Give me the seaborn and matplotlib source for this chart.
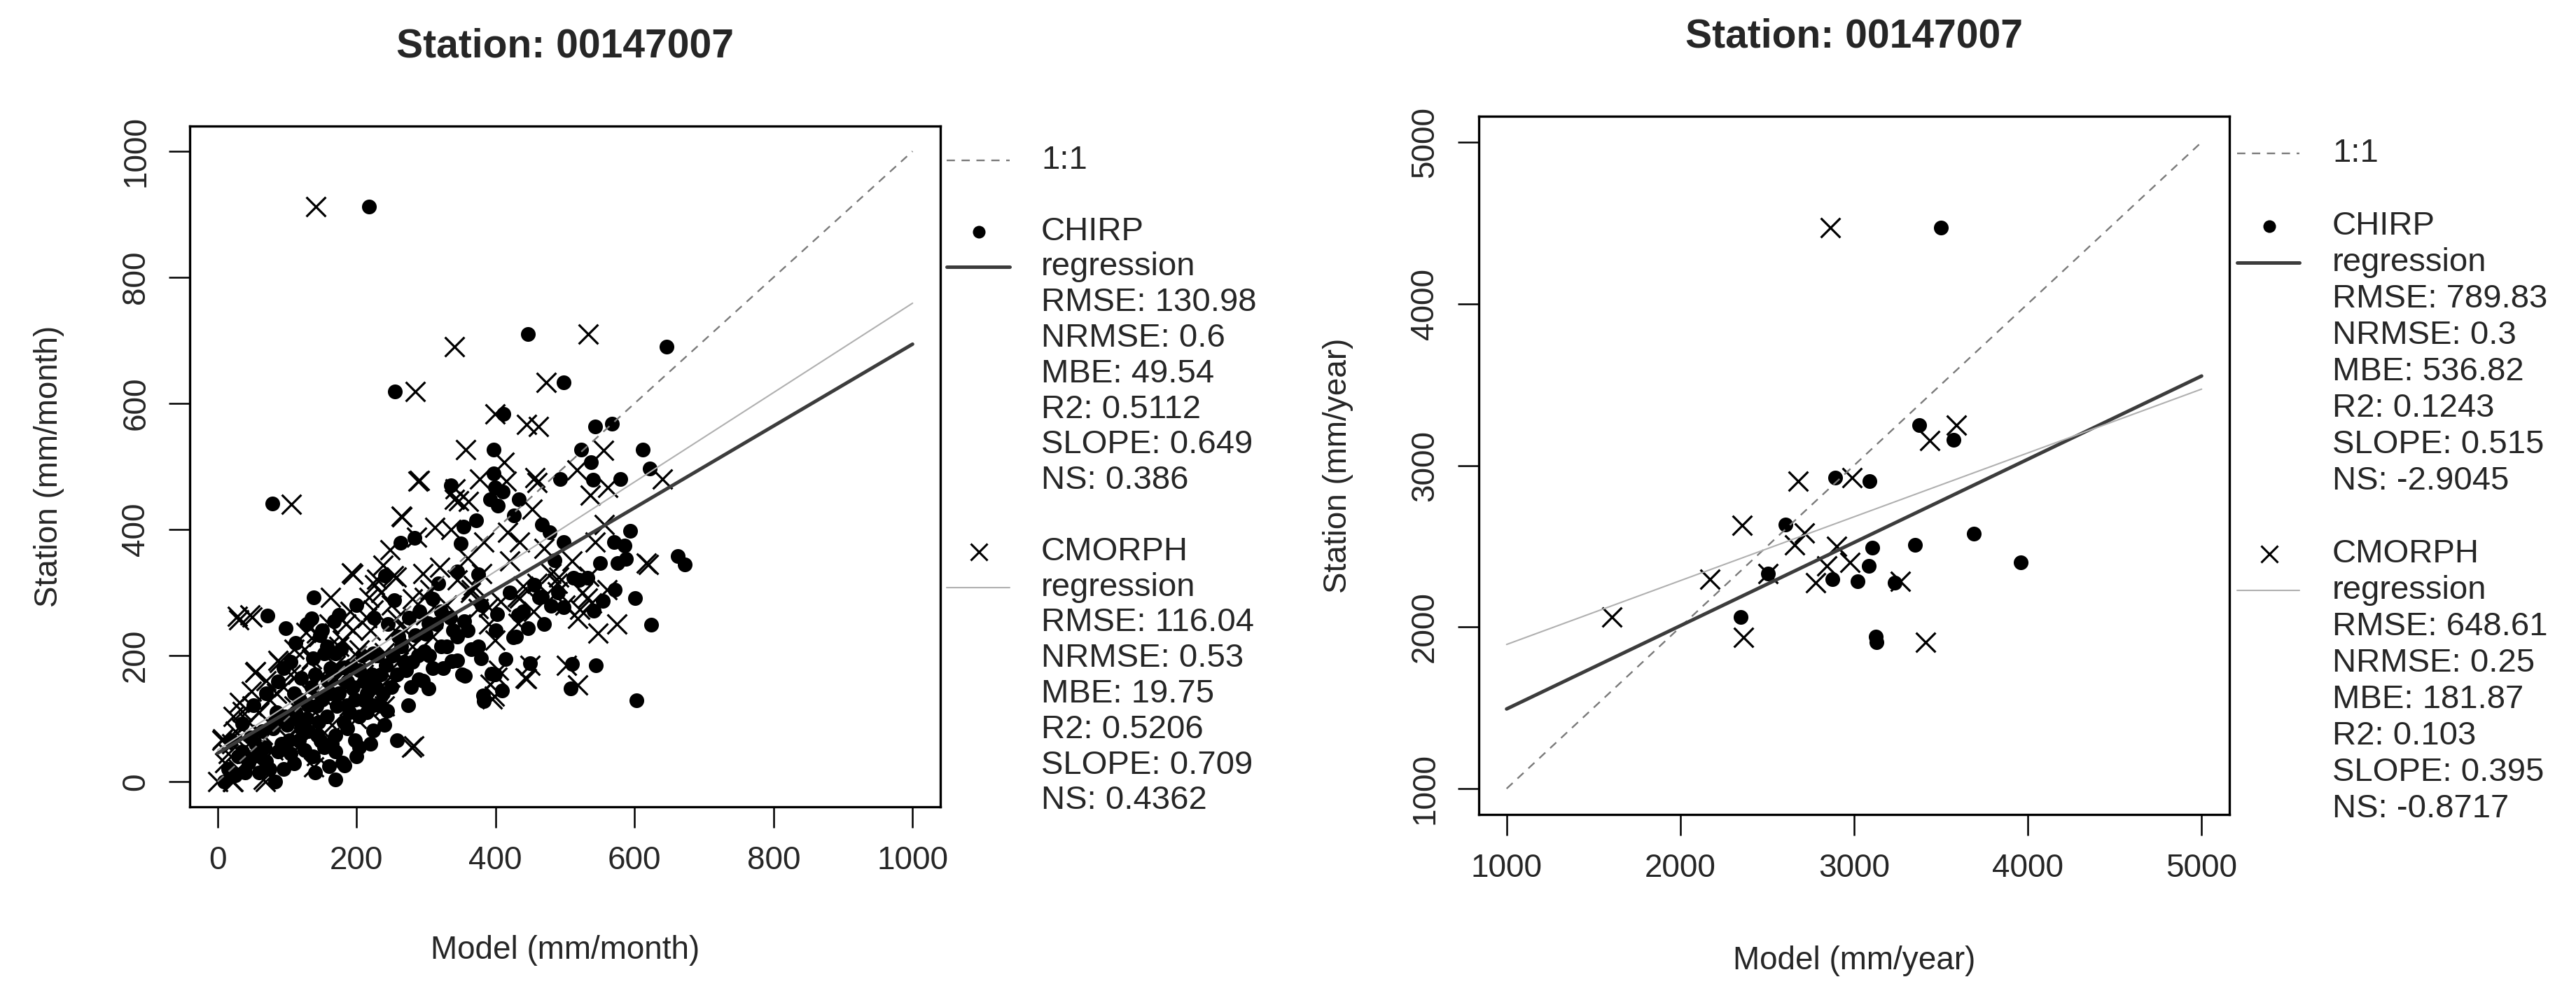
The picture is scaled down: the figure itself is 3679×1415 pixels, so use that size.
import numpy as np
import pandas as pd
import matplotlib
matplotlib.use("Agg")
import matplotlib.pyplot as plt
from matplotlib.lines import Line2D
import seaborn as sns

# ---- monthly panel: (model, station) pairs ----
chirp_monthly = [
    (447, 710), (646, 690), (498, 633), (411, 583), (543, 563), (567, 568), (523, 527), (537, 507),
    (612, 527), (622, 497), (580, 480), (540, 479), (493, 480), (397, 527), (397, 489), (399, 467),
    (410, 460), (392, 448), (403, 438), (434, 448), (336, 470), (426, 422), (467, 408), (478, 396),
    (594, 398), (498, 380), (571, 380), (586, 375), (662, 358), (672, 345), (588, 353), (576, 347),
    (550, 347), (485, 351), (512, 323), (532, 323), (572, 304), (601, 291), (554, 287), (456, 312),
    (467, 293), (480, 279), (498, 277), (541, 271), (354, 405), (372, 415), (350, 378),
    (218, 912), (255, 619), (624, 249), (603, 129), (544, 184), (508, 148), (510, 187), (409, 144),
    (383, 128), (399, 170), (429, 230), (337, 191), (356, 168),
    (79, 441), (72, 263), (138, 292), (98, 243), (135, 259), (168, 254), (263, 379), (283, 387),
    (241, 327), (254, 288), (318, 314), (345, 333), (375, 329), (463, 292), (402, 266), (432, 264),
    (447, 243), (425, 229), (375, 214), (345, 192), (352, 170), (379, 196), (414, 194), (450, 188),
    (394, 171), (382, 137), (304, 148), (289, 162), (274, 121), (258, 66), (224, 81), (204, 55),
    (183, 26), (170, 3), (83, 0), (9, 0), (147, 232),
    (137, 196), (153, 203), (170, 177), (187, 159), (163, 140), (36, 48), (52, 40), (70, 32),
    (87, 48), (103, 66), (120, 84), (110, 29), (137, 40), (153, 54), (170, 73), (187, 84),
    (204, 103), (211, 129), (187, 121), (157, 103), (130, 121), (110, 140), (87, 159), (70, 140),
    (52, 121), (36, 92), (19, 66), (97, 103), (80, 84), (117, 66), (143, 73), (170, 48),
    (198, 66), (224, 121), (238, 140), (211, 159), (183, 181), (157, 214), (170, 203), (204, 177),
    (224, 203), (271, 177), (298, 207), (322, 214), (339, 240), (355, 254), (304, 251), (322, 270),
    (284, 232), (264, 214), (244, 112), (15, 20), (25, 10), (45, 30), (60, 15), (95, 20),
    (125, 50), (145, 95), (165, 60), (190, 110), (215, 140), (235, 170), (250, 150), (280, 190),
    (300, 235), (310, 180), (330, 215), (360, 240), (380, 280), (400, 240), (420, 300), (440, 270),
    (470, 250), (490, 300), (520, 320), (55, 60), (65, 80), (85, 110), (100, 90), (115, 100),
    (130, 80), (150, 130), (175, 140), (195, 150), (120, 165), (140, 170), (95, 180), (105, 190),
    (260, 230), (275, 260), (290, 270), (310, 290), (230, 200), (245, 250),
    (30, 40), (40, 15), (48, 70), (58, 45), (68, 55), (75, 20), (82, 95), (92, 60),
    (105, 45), (112, 110), (118, 130), (128, 100), (135, 150), (142, 120), (148, 65), (158, 160),
    (162, 180), (172, 120), (178, 210), (182, 95), (192, 185), (198, 130), (208, 200), (215, 110),
    (222, 170), (228, 150), (235, 120), (242, 185), (252, 200), (258, 170), (268, 190), (278, 150),
    (288, 200), (295, 160), (305, 200), (315, 250), (325, 180), (335, 260), (345, 230), (365, 210),
    (128, 250), (112, 220), (150, 240), (175, 265), (200, 280), (225, 260), (180, 30), (160, 25),
    (140, 15), (200, 40), (220, 60), (240, 90),
]

cmorph_monthly = [
    (341, 690), (533, 710), (473, 633), (399, 583), (445, 567), (462, 563), (357, 527), (555, 526),
    (412, 507), (517, 494), (377, 480), (415, 477), (457, 482), (460, 474), (640, 480), (561, 467),
    (536, 454), (341, 448), (361, 445), (453, 432), (556, 408), (543, 380), (617, 347), (417, 396),
    (435, 380), (336, 400), (383, 380), (368, 311), (489, 315), (489, 301), (534, 326), (435, 291),
    (532, 291), (521, 273), (538, 283), (390, 277),
    (141, 912), (284, 619), (290, 478), (265, 420), (342, 465), (347, 446), (286, 388), (248, 368),
    (313, 403), (195, 329), (229, 321), (257, 325), (306, 304), (364, 300), (491, 324), (460, 314),
    (518, 259), (547, 236), (431, 293), (407, 286), (433, 251), (502, 185), (450, 185), (445, 163),
    (402, 166), (392, 154), (398, 136), (518, 153), (282, 57), (142, 41), (31, 257), (50, 261),
    (55, 174), (89, 189), (36, 111), (7, 68), (0, 0), (21, 0), (69, 0), (142, 236),
    (257, 259), (224, 272), (180, 224), (204, 209), (171, 162),
    (106, 440), (29, 262), (47, 264), (193, 331), (163, 292), (54, 173), (264, 421), (288, 477),
    (226, 312), (253, 327), (298, 292), (365, 305), (399, 225), (404, 177), (443, 164), (395, 131),
    (279, 55), (138, 23), (66, 3), (22, 0), (6, 66), (22, 103), (32, 126), (49, 143),
    (87, 192), (110, 210), (127, 237), (191, 270), (218, 292), (238, 343), (221, 110), (248, 166),
    (10, 30), (15, 45), (25, 80), (30, 20), (40, 55), (45, 95), (55, 35), (60, 110),
    (65, 75), (75, 130), (80, 50), (90, 100), (95, 150), (100, 70), (110, 120), (115, 170),
    (120, 90), (130, 145), (135, 195), (140, 110), (150, 170), (155, 130), (160, 215), (165, 90),
    (170, 185), (180, 150), (185, 250), (190, 120), (200, 200), (210, 170), (220, 240), (230, 145),
    (240, 205), (250, 280), (260, 190), (270, 240), (280, 215), (300, 265), (310, 230), (320, 340),
    (330, 280), (345, 320), (350, 250), (360, 355), (375, 275), (380, 330), (390, 250), (420, 350),
    (440, 310), (455, 270), (470, 370), (480, 330), (500, 280), (510, 350), (525, 300), (560, 305),
    (575, 250), (620, 345),
    (20, 60), (35, 85), (50, 120), (70, 160), (85, 140), (105, 170), (125, 210), (145, 230),
    (160, 250), (175, 215), (195, 240), (215, 260), (235, 300), (255, 240), (280, 290), (295, 330),
    (120, 60), (160, 70), (200, 100), (240, 120),
]

# ---- annual panel ----
chirp_yearly = [
    (3500, 4472), (3373, 3251), (3571, 3160), (2893, 2925), (3090, 2904), (2605, 2636),
    (3689, 2578), (3350, 2508), (3105, 2492), (2503, 2331), (3958, 2401), (3085, 2377),
    (2876, 2298), (3020, 2285), (3232, 2273), (2347, 2060), (3124, 1941), (3127, 1908),
]
cmorph_yearly = [
    (2862, 4472), (3590, 3251), (3435, 3153), (2989, 2925), (2678, 2904), (2356, 2630),
    (2715, 2584), (2658, 2508), (2898, 2499), (2975, 2401), (2842, 2377), (2503, 2331),
    (2169, 2295), (2780, 2273), (3266, 2285), (1607, 2060), (2362, 1938), (3412, 1905),
]

# regression fits (intercept, slope)
fit_monthly = {"CHIRP": (45, 0.649), "CMORPH": (50, 0.709)}
fit_yearly = {"CHIRP": (978, 0.515), "CMORPH": (1497, 0.395)}

stats_monthly = {
    "CHIRP": ["RMSE: 130.98", "NRMSE: 0.6", "MBE: 49.54", "R2: 0.5112", "SLOPE: 0.649", "NS: 0.386"],
    "CMORPH": ["RMSE: 116.04", "NRMSE: 0.53", "MBE: 19.75", "R2: 0.5206", "SLOPE: 0.709", "NS: 0.4362"],
}
stats_yearly = {
    "CHIRP": ["RMSE: 789.83", "NRMSE: 0.3", "MBE: 536.82", "R2: 0.1243", "SLOPE: 0.515", "NS: -2.9045"],
    "CMORPH": ["RMSE: 648.61", "NRMSE: 0.25", "MBE: 181.87", "R2: 0.103", "SLOPE: 0.395", "NS: -0.8717"],
}

ticks_monthly = [0, 200, 400, 600, 800, 1000]
ticks_yearly = [1000, 2000, 3000, 4000, 5000]

sns.set_style("ticks")
plt.rcParams["font.family"] = ["Liberation Sans", "DejaVu Sans"]

W, H = 3680, 1415
fig = plt.figure(figsize=(W / 100, H / 100), dpi=100)

DOT_S, X_S = 230, 400
ONE_COLOR, CHIRP_COLOR, CMORPH_COLOR = "#7a7a7a", "#3c3c3c", "#b0b0b0"
ONE_LW, CHIRP_LW, CMORPH_LW = 1.7, 3.6, 1.5
DASH = (0, (5, 4))


def px_axes(x0, y0, x1, y1):
    return fig.add_axes([x0 / W, 1 - y1 / H, (x1 - x0) / W, (y1 - y0) / H])


def draw_panel(ax, chirp, cmorph, fits, lo, hi, ticks, xlabel, ylabel):
    c = pd.DataFrame(chirp, columns=["model", "station"])
    m = pd.DataFrame(cmorph, columns=["model", "station"])
    sns.scatterplot(data=c, x="model", y="station", marker="o", s=DOT_S,
                    color="black", linewidth=0, ax=ax, zorder=2)
    sns.scatterplot(data=m, x="model", y="station", marker="x", s=X_S,
                    color="black", linewidth=2.3, ax=ax, zorder=2)
    xs = np.array([lo, hi], dtype=float)
    ax.plot(xs, xs, color=ONE_COLOR, lw=ONE_LW, ls=DASH, zorder=3)
    a, b = fits["CHIRP"]
    ax.plot(xs, a + b * xs, color=CHIRP_COLOR, lw=CHIRP_LW, zorder=3)
    a, b = fits["CMORPH"]
    ax.plot(xs, a + b * xs, color=CMORPH_COLOR, lw=CMORPH_LW, zorder=3)

    pad = 0.04 * (hi - lo)
    ax.set_xlim(lo - pad, hi + pad)
    ax.set_ylim(lo - pad, hi + pad)
    ax.set_xticks(ticks)
    ax.set_yticks(ticks)
    ax.tick_params(direction="out", length=21.5, width=1.8, pad=18,
                   labelsize=33, color="black")
    ax.tick_params(axis="y", labelrotation=90)
    for lab in ax.get_yticklabels():
        lab.set_va("center")
    for sp in ax.spines.values():
        sp.set_linewidth(2.4)
        sp.set_color("black")
        sp.set_visible(True)
    ax.set_xlabel(xlabel, fontsize=33)
    ax.set_ylabel(ylabel, fontsize=33)
    ax.xaxis.label.set_va("center")
    ax.yaxis.label.set_va("center")


def draw_key(x_line0, x_line1, x_mark, x_text, y0, dy, stats):
    def fx(v):
        return v / W

    def fy(v):
        return 1 - v / H

    def row(i):
        return y0 + dy * i

    fig.add_artist(Line2D([fx(x_line0), fx(x_line1)], [fy(row(0))] * 2, transform=fig.transFigure,
                          color=ONE_COLOR, lw=ONE_LW, ls=DASH))
    fig.text(fx(x_text), fy(row(0)), "1:1", fontsize=34, va="center", ha="left")
    for k, (name, marker, col, lw) in enumerate([("CHIRP", "o", CHIRP_COLOR, CHIRP_LW),
                                                 ("CMORPH", "x", CMORPH_COLOR, CMORPH_LW)]):
        base = 2 + 9 * k
        if marker == "o":
            fig.add_artist(Line2D([fx(x_mark)], [fy(row(base))], transform=fig.transFigure,
                                  marker="o", markersize=13, color="black", ls="none", mew=0))
        else:
            fig.add_artist(Line2D([fx(x_mark)], [fy(row(base))], transform=fig.transFigure,
                                  marker="x", markersize=17, color="black", ls="none", mew=2.2))
        fig.add_artist(Line2D([fx(x_line0), fx(x_line1)], [fy(row(base + 1))] * 2,
                              transform=fig.transFigure, color=col, lw=lw))
        lines = [name, "regression"] + stats[name]
        for j, t in enumerate(lines):
            fig.text(fx(x_text), fy(row(base + j)), t, fontsize=34, va="center", ha="left")


axL = px_axes(271, 180, 1343, 1152)
draw_panel(axL, chirp_monthly, cmorph_monthly, fit_monthly, 0, 1000, ticks_monthly,
           "Model (mm/month)", "Station (mm/month)")
axL.xaxis.set_label_coords(0.5, -0.211)
axL.yaxis.set_label_coords(-0.1875, 0.5)
fig.text(807 / W, 1 - 66 / H, "Station: 00147007", fontsize=41, fontweight="bold",
         ha="center", va="center")
draw_key(1352, 1442, 1398, 1487, 229, 50.8, stats_monthly)

axR = px_axes(2112, 166, 3184, 1163)
draw_panel(axR, chirp_yearly, cmorph_yearly, fit_yearly, 1000, 5000, ticks_yearly,
           "Model (mm/year)", "Station (mm/year)")
axR.xaxis.set_label_coords(0.5, -0.21)
axR.yaxis.set_label_coords(-0.1875, 0.5)
fig.text(2648 / W, 1 - 52 / H, "Station: 00147007", fontsize=41, fontweight="bold",
         ha="center", va="center")
draw_key(3195, 3284, 3241, 3331, 219, 52, stats_yearly)

fig.savefig("out.png", dpi=100, facecolor="white")
